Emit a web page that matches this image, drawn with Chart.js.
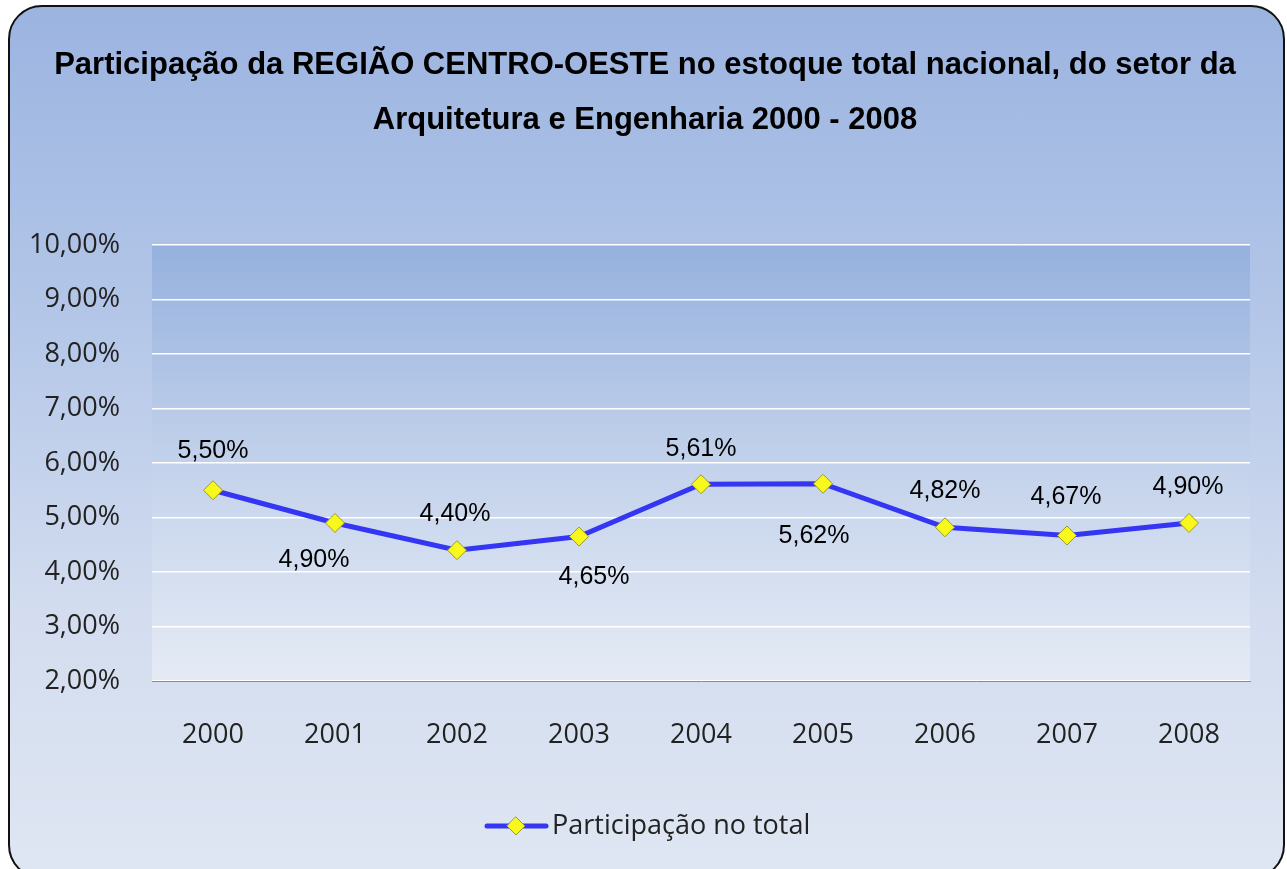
<!DOCTYPE html>
<html>
<head>
<meta charset="utf-8">
<script src="https://cdn.jsdelivr.net/npm/chart.js@4.4.1/dist/chart.umd.min.js"></script>
<style>
  html, body { margin:0; padding:0; background:#ffffff; width:1287px; height:869px; overflow:hidden; }
  #frame {
    position:absolute; left:8px; top:5px; width:1273px; height:870px;
    border:2px solid #111; border-radius:34px;
    background: linear-gradient(to bottom, #9bb4e0 0%, #b3c6e8 35%, #d3ddef 70%, #dfe6f3 100%);
  }
  #wrap { position:absolute; left:0; top:0; width:1287px; height:869px; }
</style>
</head>
<body>
<div id="frame"></div>
<div id="wrap"><canvas id="c" width="1287" height="869"></canvas></div>
<script>
const categories = ['2000','2001','2002','2003','2004','2005','2006','2007','2008'];
const seriesName = 'Participação no total';
const seriesValues = [5.50, 4.90, 4.40, 4.65, 5.61, 5.62, 4.82, 4.67, 4.90];
const titleLines = ['Participação da REGIÃO CENTRO-OESTE no estoque total nacional, do setor da',
                    'Arquitetura e Engenharia 2000 - 2008'];
const yMin = 2, yMax = 10, yStep = 1;

// label placement (style, not data)
const labelOffsets = [[0,-39],[-21,37],[-2,-36],[15,41],[0,-35],[-9,52],[0,-36],[-1,-38],[-1,-36]];

const fmt = v => v.toFixed(2).replace('.', ',') + '%';

const lineColor = '#3535f4';
const pointFill = '#f8f81c';
const pointBorder = '#9a9a2a';

const plotBg = {
  id:'plotBg',
  beforeDraw(chart){
    const {ctx, chartArea:a} = chart;
    const gr = ctx.createLinearGradient(0, a.top, 0, a.bottom);
    gr.addColorStop(0, '#95b1de');
    gr.addColorStop(0.5, '#c3d2eb');
    gr.addColorStop(1, '#e5ebf5');
    ctx.save(); ctx.fillStyle = gr;
    ctx.fillRect(a.left, a.top, a.right-a.left, a.bottom-a.top);
    ctx.restore();
  }
};

const dataLabels = {
  id:'dataLabels',
  afterDatasetsDraw(chart){
    const ctx = chart.ctx;
    const meta = chart.getDatasetMeta(0);
    ctx.save();
    ctx.font = '25px "Liberation Sans", Arial, sans-serif';
    ctx.fillStyle = '#000';
    ctx.textAlign = 'center'; ctx.textBaseline = 'middle';
    meta.data.forEach((p, i) => {
      const o = labelOffsets[i];
      ctx.fillText(fmt(seriesValues[i]), p.x + o[0], p.y + o[1]);
    });
    ctx.restore();
  }
};

// title and legend drawn in the Excel-like positions
const titleAndLegend = {
  id:'titleAndLegend',
  afterDraw(chart){
    const ctx = chart.ctx;
    ctx.save();
    ctx.fillStyle = '#000';
    ctx.font = 'bold 31px "Liberation Sans", Arial, sans-serif';
    ctx.textAlign = 'center'; ctx.textBaseline = 'middle';
    titleLines.forEach((t, i) => ctx.fillText(t, 645, 65 + i * 55));

    // legend
    const ly = 826;
    ctx.strokeStyle = lineColor; ctx.lineWidth = 5; ctx.lineCap = 'round';
    ctx.beginPath(); ctx.moveTo(487, ly); ctx.lineTo(546, ly); ctx.stroke();
    ctx.fillStyle = pointFill; ctx.strokeStyle = pointBorder; ctx.lineWidth = 1;
    ctx.beginPath(); ctx.moveTo(516, ly-9); ctx.lineTo(525, ly); ctx.lineTo(516, ly+9); ctx.lineTo(507, ly); ctx.closePath();
    ctx.fill(); ctx.stroke();
    ctx.fillStyle = '#222';
    ctx.font = '27px "Open Sans", sans-serif';
    ctx.textAlign = 'left';
    ctx.fillText(seriesName, 552, ly);
    ctx.restore();
  }
};

new Chart(document.getElementById('c'), {
  type:'line',
  data:{
    labels: categories,
    datasets:[{
      label: seriesName,
      data: seriesValues,
      borderColor: lineColor,
      borderWidth: 5,
      pointStyle: 'rectRot',
      pointRadius: 9.5,
      pointHoverRadius: 9.5,
      pointBackgroundColor: pointFill,
      pointBorderColor: pointBorder,
      pointBorderWidth: 1,
      tension: 0,
      fill: false
    }]
  },
  options:{
    responsive:false,
    animation:false,
    events:[],
    layout:{ padding:{ left:0, right:37, top:245, bottom:0 } },
    plugins:{
      title:{ display:false },
      legend:{ display:false },
      tooltip:{ enabled:false }
    },
    scales:{
      x:{
        offset:true,
        grid:{ display:false, drawTicks:false },
        border:{ display:true, color:'#8a8a8a', width:1 },
        ticks:{ color:'#222', font:{ family:'"Open Sans", sans-serif', size:27 }, padding:38, maxRotation:0 },
        afterFit(s){ s.height = 188; }
      },
      y:{
        min:yMin, max:yMax,
        grid:{ color:'#ffffff', lineWidth:1.5, drawTicks:false },
        border:{ display:false },
        ticks:{ stepSize:yStep, color:'#222', font:{ family:'"Open Sans", sans-serif', size:27 }, padding:32,
                callback: v => fmt(v) },
        afterFit(s){ s.width = 152; }
      }
    }
  },
  plugins:[plotBg, dataLabels, titleAndLegend]
});
</script>
</body>
</html>
